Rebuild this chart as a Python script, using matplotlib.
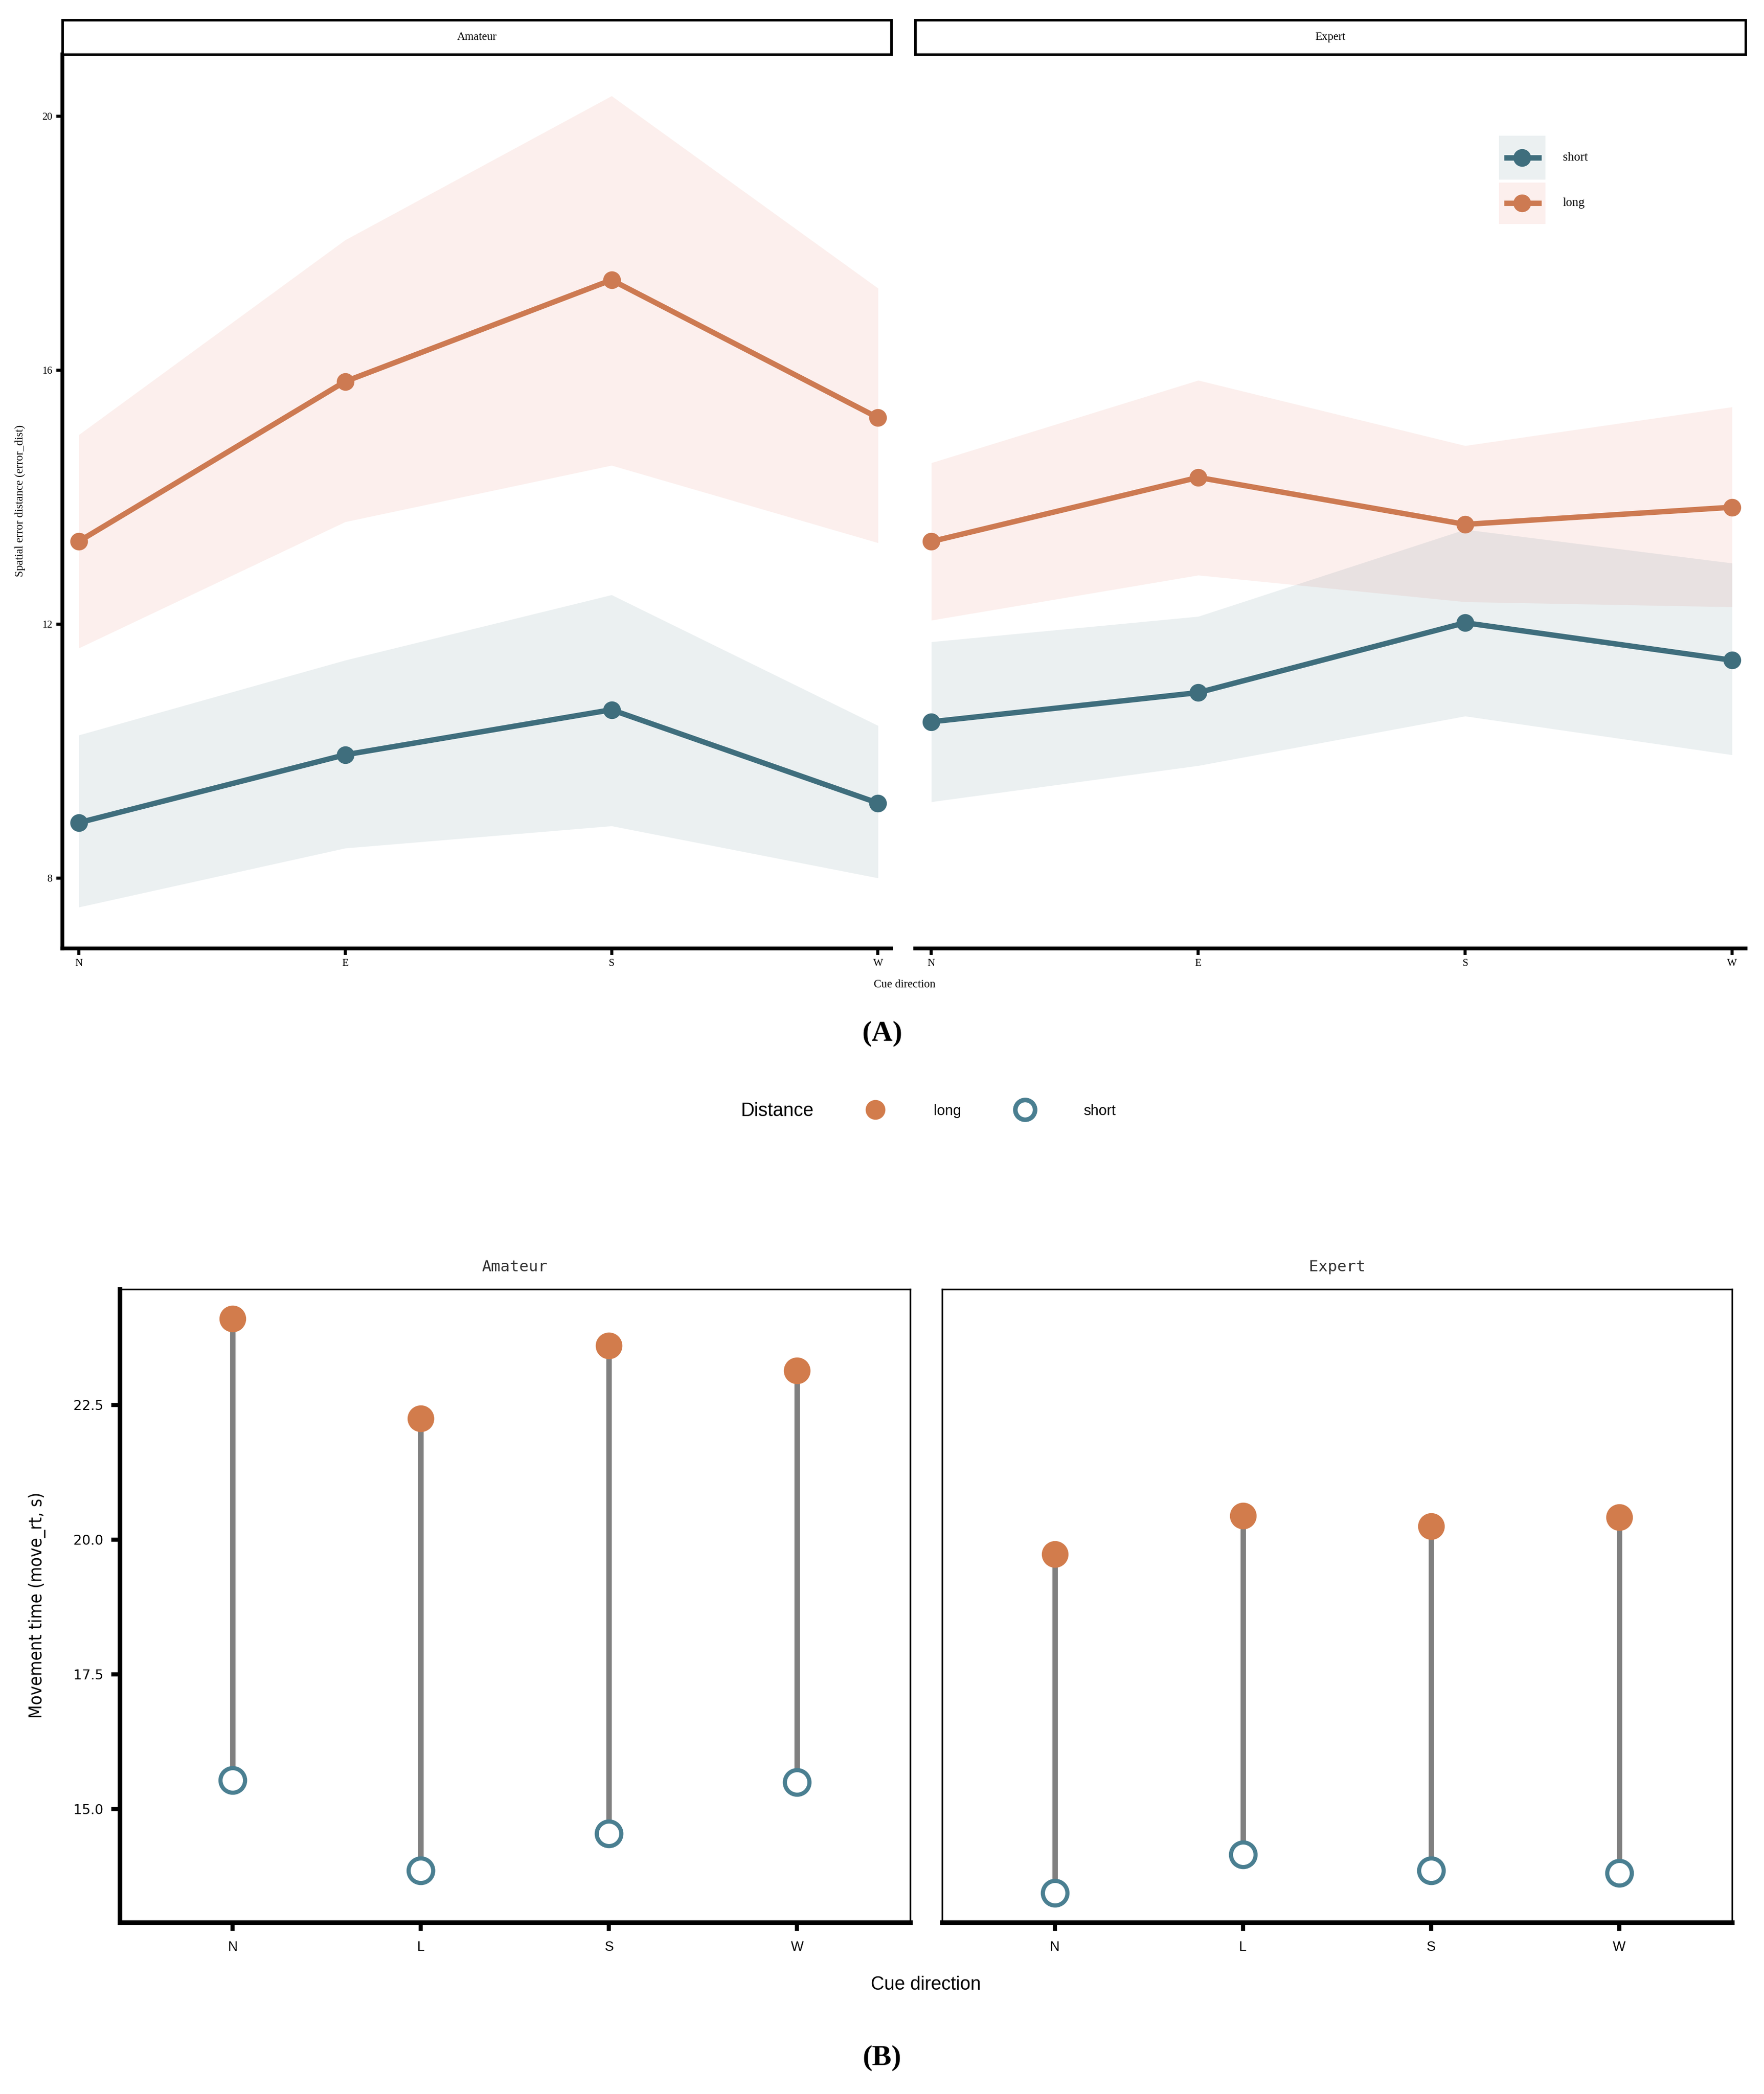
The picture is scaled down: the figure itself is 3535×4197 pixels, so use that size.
import matplotlib
matplotlib.use("Agg")
import matplotlib.pyplot as plt
from matplotlib.lines import Line2D
from matplotlib.patches import Rectangle
import numpy as np

# ---------------- data ----------------
directions_a = ["N", "E", "S", "W"]
groups = ["Amateur", "Expert"]

# Panel A: spatial error distance
a_long_mean = {"Amateur": [13.30, 15.82, 17.42, 15.25], "Expert": [13.30, 14.31, 13.57, 13.84]}
a_long_lo = {"Amateur": [11.62, 13.61, 14.50, 13.28], "Expert": [12.06, 12.77, 12.35, 12.27]}
a_long_hi = {"Amateur": [14.98, 18.05, 20.32, 17.29], "Expert": [14.54, 15.84, 14.81, 15.42]}
a_short_mean = {"Amateur": [8.87, 9.94, 10.65, 9.18], "Expert": [10.46, 10.92, 12.02, 11.43]}
a_short_lo = {"Amateur": [7.54, 8.47, 8.82, 8.00], "Expert": [9.20, 9.77, 10.55, 9.94]}
a_short_hi = {"Amateur": [10.25, 11.43, 12.46, 10.40], "Expert": [11.72, 12.12, 13.49, 12.96]}
a_yticks = [8, 12, 16, 20]
a_legend_labels = ["short", "long"]

# Panel B: movement time
directions_b = ["N", "L", "S", "W"]
b_long = {"Amateur": [24.11, 22.25, 23.61, 23.14], "Expert": [19.73, 20.45, 20.25, 20.42]}
b_short = {"Amateur": [15.54, 13.86, 14.55, 15.50], "Expert": [13.44, 14.16, 13.86, 13.81]}
b_yticks = [15.0, 17.5, 20.0, 22.5]
b_legend_labels = ["long", "short"]

# ---------------- style ----------------
C_LONG = "#CD7A52"
C_SHORT = "#3F6E7D"
C_LONG_FILL = "#E8826E"
C_SHORT_FILL = "#3F6E7D"
C_LONG_B = "#D27C4C"
C_SHORT_B = "#4A7F91"
C_STEM = "#808080"
SERIF = ["Liberation Serif", "DejaVu Serif"]
SANS = ["Liberation Sans", "DejaVu Sans"]

W, H = 1324.0, 1572.0  # reference layout units
fig = plt.figure(figsize=(3535 / 300, 4197 / 300), dpi=300)
fig.patch.set_facecolor("white")


def rect(x0, y0, x1, y1):
    return [x0 / W, 1 - y1 / H, (x1 - x0) / W, (y1 - y0) / H]


# ---------------- Panel A ----------------
a_boxes = {"Amateur": (47, 41, 669, 712), "Expert": (687, 41, 1310, 712)}
xa = np.arange(len(directions_a))
for g in groups:
    x0, y0, x1, y1 = a_boxes[g]
    ax = fig.add_axes(rect(x0, y0, x1, y1))
    ax.fill_between(xa, a_long_lo[g], a_long_hi[g], color=C_LONG_FILL, alpha=0.12, lw=0)
    ax.fill_between(xa, a_short_lo[g], a_short_hi[g], color=C_SHORT_FILL, alpha=0.10, lw=0)
    ax.plot(xa, a_short_mean[g], color=C_SHORT, lw=2.6, marker="o", ms=7.5, solid_capstyle="butt")
    ax.plot(xa, a_long_mean[g], color=C_LONG, lw=2.6, marker="o", ms=7.5, solid_capstyle="butt")
    ax.set_xlim(-0.06, 3.05)
    ax.set_ylim(6.89, 20.97)
    ax.set_xticks(xa)
    ax.set_xticklabels(directions_a, fontsize=5, family=SERIF)
    for s in ["top", "right"]:
        ax.spines[s].set_visible(False)
    ax.spines["bottom"].set_linewidth(1.8)
    ax.tick_params(axis="x", length=3, width=1.5, pad=2)
    if g == "Amateur":
        ax.spines["left"].set_linewidth(1.8)
        ax.set_yticks(a_yticks)
        ax.set_yticklabels([str(v) for v in a_yticks], fontsize=5, family=SERIF)
        ax.tick_params(axis="y", length=3, width=1.5, pad=2)
    else:
        ax.spines["left"].set_visible(False)
        ax.set_yticks([])
        # legend keys drawn in axes fraction coordinates
        pw = x1 - x0
        ph = y1 - y0
        key_rows = [(102, 135, C_SHORT, C_SHORT_FILL, 0.10), (137, 168, C_LONG, C_LONG_FILL, 0.12)]
        for (ky0, ky1, col, fcol, al), lab in zip(key_rows, a_legend_labels):
            fx0 = (1125 - x0) / pw
            fx1 = (1160 - x0) / pw
            fy0 = 1 - (ky1 - y0) / ph
            fy1 = 1 - (ky0 - y0) / ph
            ax.add_patch(Rectangle((fx0, fy0), fx1 - fx0, fy1 - fy0, transform=ax.transAxes,
                                   facecolor=fcol, alpha=al, lw=0, clip_on=False))
            fyc = (fy0 + fy1) / 2
            ax.add_line(Line2D([(1129 - x0) / pw, (1157 - x0) / pw], [fyc, fyc], transform=ax.transAxes,
                               color=col, lw=2.6, solid_capstyle="butt", clip_on=False))
            ax.add_line(Line2D([(1142.5 - x0) / pw], [fyc], transform=ax.transAxes, ls="none",
                               marker="o", ms=7.5, color=col, clip_on=False))
            ax.text((1173 - x0) / pw, fyc, lab, transform=ax.transAxes, ha="left", va="center",
                    fontsize=6, family=SERIF)
    # strip
    sax = fig.add_axes(rect(x0, 15, x1, 41))
    sax.set_xticks([]); sax.set_yticks([])
    for s in sax.spines.values():
        s.set_linewidth(1.2)
    sax.text(0.5, 0.5, g, ha="center", va="center", fontsize=5.5, family=SERIF, transform=sax.transAxes)

fig.text(15 / W, 1 - 376 / H, "Spatial error distance (error_dist)", rotation=90, ha="center", va="center",
         fontsize=5.5, family=SERIF)
fig.text(679 / W, 1 - 739 / H, "Cue direction", ha="center", va="center", fontsize=5.5, family=SERIF)
fig.text(662 / W, 1 - 776 / H, "(A)", ha="center", va="center", fontsize=14, family=SERIF, weight="bold")

# ---------------- middle legend ----------------
fig.text(556 / W, 1 - 834 / H, "Distance", ha="left", va="center", fontsize=9, family=SANS)
leg_handles = [
    Line2D([], [], ls="none", marker="o", ms=8.5, markerfacecolor=C_LONG_B, markeredgecolor=C_LONG_B),
    Line2D([], [], ls="none", marker="o", ms=9.5, markerfacecolor="white", markeredgecolor=C_SHORT_B,
           markeredgewidth=2.2),
]
fig.legend(leg_handles, b_legend_labels, ncol=2, loc="center left",
           bbox_to_anchor=(646 / W, 1 - 834 / H), frameon=False,
           prop={"family": SANS, "size": 7}, handlelength=2, handletextpad=3.0,
           columnspacing=3.4, borderpad=0, borderaxespad=0)

# ---------------- Panel B ----------------
b_boxes = {"Amateur": (90, 968, 683, 1443), "Expert": (707, 968, 1300, 1443)}
xb = np.arange(len(directions_b))
for g in groups:
    x0, y0, x1, y1 = b_boxes[g]
    ax = fig.add_axes(rect(x0, y0, x1, y1))
    ax.vlines(xb, b_short[g], b_long[g], color=C_STEM, lw=2.6, zorder=1)
    ax.scatter(xb, b_long[g], s=165, color=C_LONG_B, lw=0, zorder=3)
    ax.scatter(xb, b_short[g], s=140, facecolor="white", edgecolor=C_SHORT_B, lw=2.0, zorder=3)
    ax.set_xlim(-0.60, 3.60)
    ax.set_ylim(12.90, 24.65)
    ax.set_xticks(xb)
    ax.set_xticklabels(directions_b, fontsize=6.5, family=SANS)
    ax.tick_params(axis="x", length=4, width=2, pad=5)
    ax.spines["bottom"].set_linewidth(2.2)
    ax.spines["top"].set_linewidth(0.8)
    ax.spines["right"].set_linewidth(0.8)
    if g == "Amateur":
        ax.spines["left"].set_linewidth(2.2)
        ax.set_yticks(b_yticks)
        ax.set_yticklabels([f"{v:.1f}" for v in b_yticks], fontsize=6.5, family=["DejaVu Sans"])
        ax.tick_params(axis="y", length=4, width=2, pad=4)
    else:
        ax.spines["left"].set_linewidth(0.8)
        ax.set_yticks([])
    ax.text(0.5, 1 + 17 / 475, g, ha="center", va="center", fontsize=7.5, family=["DejaVu Sans Mono"],
            color="#333333", transform=ax.transAxes)

fig.text(28 / W, 1 - 1205 / H, "Movement time (move_rt, s)", rotation=90, ha="center", va="center",
         fontsize=8.5, family=["DejaVu Sans"], fontstretch="condensed")
fig.text(695 / W, 1 - 1490 / H, "Cue direction", ha="center", va="center", fontsize=9, family=SANS)
fig.text(662 / W, 1 - 1545 / H, "(B)", ha="center", va="center", fontsize=14, family=SERIF, weight="bold")

fig.savefig("out.png", dpi=300, facecolor="white")
